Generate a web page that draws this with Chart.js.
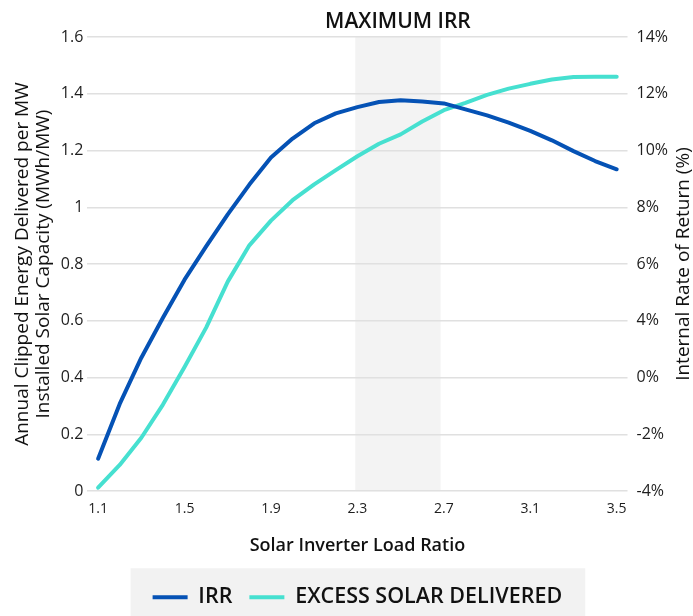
<!DOCTYPE html>
<html>
<head>
<meta charset="utf-8">
<script src="https://cdn.jsdelivr.net/npm/chart.js@4"></script>
<style>
  html, body { margin: 0; padding: 0; background: #fff; }
  #wrap { width: 693px; height: 616px; }
</style>
</head>
<body>
<div id="wrap"><canvas id="irr-chart" width="693" height="616"></canvas></div>
<script>
// inverter load ratio steps (x)
const loadRatio = [1.1, 1.2, 1.3, 1.4, 1.5, 1.6, 1.7, 1.8, 1.9, 2.0, 2.1, 2.2, 2.3,
                   2.4, 2.5, 2.6, 2.7, 2.8, 2.9, 3.0, 3.1, 3.2, 3.3, 3.4, 3.5];

// in left axis units
const irr = [0.114, 0.307, 0.470, 0.611, 0.745, 0.862, 0.975, 1.080, 1.175, 1.242,
             1.296, 1.331, 1.353, 1.371, 1.377, 1.373, 1.366, 1.345, 1.324, 1.298,
             1.269, 1.236, 1.198, 1.163, 1.134];
const excessSolar = [0.012, 0.092, 0.188, 0.305, 0.437, 0.576, 0.738, 0.866, 0.953, 1.025,
                     1.081, 1.131, 1.180, 1.224, 1.257, 1.302, 1.342, 1.368, 1.396, 1.418,
                     1.435, 1.450, 1.459, 1.460, 1.460];

const xTickValues = [1.1, 1.5, 1.9, 2.3, 2.7, 3.1, 3.5];
// right axis labels as printed on the original (no 2%)
const irrTickLabels = ['-4%', '-2%', '0%', '4%', '6%', '8%', '10%', '12%', '14%'];

// shaded "maximum IRR" range
const maxIrrBand = [2.29, 2.685];
const bandLabel = 'MAXIMUM IRR';
const rightTitle = 'Internal Rate of Return (%)';

const textColor = '#1e1e1e';
const baseFont = "'Open Sans', 'Noto Sans', sans-serif";

function toPoints(ys) {
    return loadRatio.map((x, i) => ({ x: x, y: ys[i] }));
}

const bandPlugin = {
    id: 'maxIrrBand',
    afterLayout(chart) {
        // centre the legend under the plot area instead of the canvas
        const legend = chart.legend;
        const dx = (chart.chartArea.left + chart.chartArea.right) / 2 - (legend.left + legend.right) / 2;
        const dy = 2;
        legend.left += dx;
        legend.right += dx;
        legend.top += dy;
        legend.bottom += dy;
        (legend.legendHitBoxes || []).forEach(b => { b.left += dx; b.top += dy; });
    },
    beforeDraw(chart) {
        const { ctx, chartArea, scales } = chart;
        const x0 = scales.x.getPixelForValue(maxIrrBand[0]);
        const x1 = scales.x.getPixelForValue(maxIrrBand[1]);
        ctx.save();
        ctx.fillStyle = '#f3f3f3';
        ctx.fillRect(x0, chartArea.top, x1 - x0, chartArea.bottom - chartArea.top);

        // grey strip behind the legend
        const boxes = chart.legend.legendHitBoxes;
        if (boxes && boxes.length) {
            const first = boxes[0];
            const last = boxes[boxes.length - 1];
            const mid = first.top + first.height / 2;
            ctx.fillStyle = '#f2f2f2';
            ctx.fillRect(first.left - 22, mid - 31, last.left + last.width - first.left + 45, chart.height - mid + 31);
        }
        ctx.restore();
    },
    afterDraw(chart) {
        const { ctx, chartArea, scales } = chart;
        const xc = (scales.x.getPixelForValue(maxIrrBand[0]) + scales.x.getPixelForValue(maxIrrBand[1])) / 2;
        ctx.save();
        ctx.font = '600 21px ' + baseFont;
        ctx.fillStyle = '#111';
        ctx.textAlign = 'center';
        ctx.textBaseline = 'middle';
        ctx.fillText(bandLabel, xc, chartArea.top - 15);

        // right axis title reads bottom-to-top like the left one
        ctx.translate(scales.y1.right - 9, (chartArea.top + chartArea.bottom) / 2);
        ctx.rotate(-Math.PI / 2);
        ctx.font = '19px ' + baseFont;
        ctx.fillText(rightTitle, 0, 0);
        ctx.restore();
    }
};

new Chart(document.getElementById('irr-chart'), {
    type: 'line',
    data: {
        datasets: [
            {
                label: 'IRR',
                data: toPoints(irr),
                borderColor: '#0552b5',
                backgroundColor: '#0552b5',
                borderWidth: 4,
                borderCapStyle: 'round',
                borderJoinStyle: 'round',
                pointRadius: 0,
                tension: 0,
                yAxisID: 'y'
            },
            {
                label: 'EXCESS SOLAR DELIVERED',
                data: toPoints(excessSolar),
                borderColor: '#46e0d0',
                backgroundColor: '#46e0d0',
                borderWidth: 4,
                borderCapStyle: 'round',
                borderJoinStyle: 'round',
                pointRadius: 0,
                tension: 0,
                yAxisID: 'y'
            }
        ]
    },
    options: {
        responsive: false,
        animation: false,
        layout: { padding: { top: 37, left: 12, right: 0, bottom: 0 } },
        plugins: {
            legend: {
                position: 'bottom',
                labels: {
                    usePointStyle: true,
                    pointStyle: 'line',
                    pointStyleWidth: 35,
                    padding: 17,
                    color: '#111',
                    font: { family: baseFont, size: 21.5, weight: '600' }
                }
            },
            tooltip: { enabled: false },
            title: { display: false }
        },
        scales: {
            x: {
                type: 'linear',
                min: 1.05,
                max: 3.55,
                afterBuildTicks(scale) {
                    scale.ticks = xTickValues.map(v => ({ value: v }));
                },
                grid: { display: false, drawTicks: false },
                border: { display: false },
                ticks: {
                    color: textColor,
                    padding: 10,
                    maxRotation: 0,
                    font: { family: "'Liberation Sans Narrow', " + baseFont, size: 14 },
                    callback: v => v.toFixed(1)
                },
                title: {
                    display: true,
                    text: 'Solar Inverter Load Ratio',
                    color: '#111',
                    padding: { top: 7, bottom: 11 },
                    font: { family: baseFont, size: 18, weight: '600' }
                }
            },
            y: {
                position: 'left',
                min: 0,
                max: 1.6,
                grid: { color: '#e0e0e0', lineWidth: 1.5, drawTicks: false },
                border: { display: false },
                ticks: {
                    stepSize: 0.2,
                    padding: 4,
                    color: textColor,
                    font: { family: baseFont, size: 16 },
                    callback: v => String(+v.toFixed(1))
                },
                title: {
                    display: true,
                    text: ['Annual Clipped Energy Delivered per MW', 'Installed Solar Capacity (MWh/MW)'],
                    color: '#111',
                    padding: { top: 0, bottom: 3 },
                    font: { family: baseFont, size: 19, lineHeight: 1.1 }
                }
            },
            y1: {
                position: 'right',
                min: 0,
                max: 1.6,
                grid: { display: false, drawTicks: false },
                border: { display: false },
                ticks: {
                    stepSize: 0.2,
                    padding: 9,
                    color: textColor,
                    font: { family: baseFont, size: 16 },
                    callback: (v, i) => irrTickLabels[i]
                },
                title: {
                    // space is kept here, the text itself is drawn by the plugin
                    display: true,
                    text: rightTitle,
                    color: 'rgba(0,0,0,0)',
                    padding: 0,
                    font: { family: baseFont, size: 19, lineHeight: 0.84 }
                }
            }
        }
    },
    plugins: [bandPlugin]
});
</script>
</body>
</html>
